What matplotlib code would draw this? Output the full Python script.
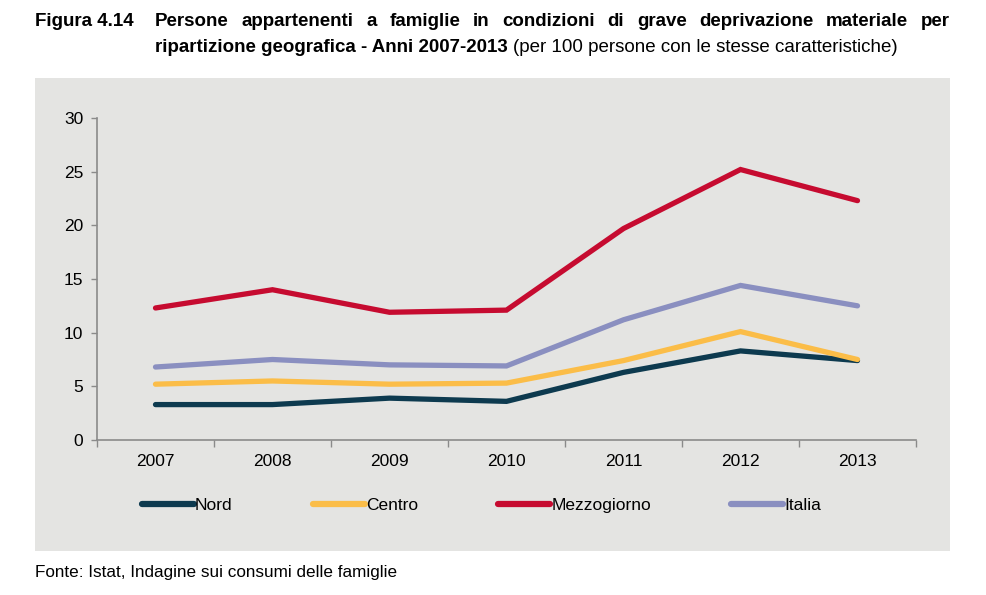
import matplotlib
matplotlib.use("Agg")
import matplotlib.pyplot as plt
from matplotlib.patches import Rectangle

years = ["2007", "2008", "2009", "2010", "2011", "2012", "2013"]
nord = [3.3, 3.3, 3.9, 3.6, 6.3, 8.3, 7.4]
centro = [5.2, 5.5, 5.2, 5.3, 7.4, 10.1, 7.5]
mezzogiorno = [12.3, 14.0, 11.9, 12.1, 19.7, 25.2, 22.3]
italia = [6.8, 7.5, 7.0, 6.9, 11.2, 14.4, 12.5]
series_names = ["Nord", "Centro", "Mezzogiorno", "Italia"]
colors = ["#0d3a4f", "#fbbd48", "#c60b30", "#8a8fc0"]

plt.rcParams['font.family'] = ['Liberation Sans', 'DejaVu Sans']

W, H = 987, 595
fig = plt.figure(figsize=(W/100, H/100), dpi=100)
fig.patches.append(Rectangle((35/W, 1-551/H), 915/W, 473/H,
                             transform=fig.transFigure, facecolor="#e4e4e2",
                             edgecolor="none", zorder=-5))

ax = fig.add_axes([97/W, 1-440/H, (916-97)/W, (440-118)/H])
ax.set_zorder(2)
ax.set_facecolor("none")
x = list(range(len(years)))
for vals, name, c in zip([nord, centro, mezzogiorno, italia], series_names, colors):
    ax.plot(x, vals, color=c, lw=3.8, solid_capstyle="round", solid_joinstyle="miter", label=name)

ax.set_xlim(-0.5, len(years) - 0.5)
ax.set_ylim(0, 30)
ax.set_yticks(range(0, 31, 5))
ax.set_xticks([i - 0.5 for i in range(len(years) + 1)])
ax.set_xticklabels([])
ax.set_xticks(x, minor=True)
ax.set_xticklabels(years, minor=True)
ax.tick_params(axis="x", which="major", direction="out", length=5, color="#8a8a8a", width=1)
ax.tick_params(axis="x", which="minor", length=0, pad=10, labelsize=12.5)
ax.tick_params(axis="y", direction="out", length=4, color="#8a8a8a", width=1, pad=6, labelsize=12.5)
for s in ["top", "right"]:
    ax.spines[s].set_visible(False)
for s in ["left", "bottom"]:
    ax.spines[s].set_color("#8a8a8a")
    ax.spines[s].set_linewidth(1.2)

leg = ax.legend(loc="center", bbox_to_anchor=(0.4695, -0.203), ncol=4, frameon=False,
                handlelength=3.0, handletextpad=0.08, columnspacing=4.6,
                prop={"size": 12.5})
for h in leg.get_lines():
    h.set_linewidth(4.5)
    h.set_solid_capstyle("round")

TS = 13.5
fig.text(35/W, 1-22/H, "Figura 4.14", weight="bold", fontsize=TS, va="center", ha="left")

# justified first title line
line1 = "Persone appartenenti a famiglie in condizioni di grave deprivazione materiale per".split()
renderer = fig.canvas.get_renderer()
words = [fig.text(0, 1-22/H, w, weight="bold", fontsize=TS, va="center", ha="left") for w in line1]
widths = [t.get_window_extent(renderer).width for t in words]
x0, x1 = 155, 950
gap = (x1 - x0 - sum(widths)) / (len(words) - 1)
pos = x0
for t, w in zip(words, widths):
    t.set_x(pos / W)
    pos += w + gap

t1 = fig.text(155/W, 1-47/H, "ripartizione geografica - Anni 2007-2013 ", weight="bold",
              fontsize=TS, va="center", ha="left")
bb = t1.get_window_extent(renderer)
fig.text(bb.x1/W, 1-47/H, "(per 100 persone con le stesse caratteristiche)",
         fontsize=TS, va="center", ha="left")
fig.text(35/W, 1-572/H, "Fonte: Istat, Indagine sui consumi delle famiglie",
         fontsize=12.3, va="center", ha="left")

fig.savefig("out.png", dpi=100)
